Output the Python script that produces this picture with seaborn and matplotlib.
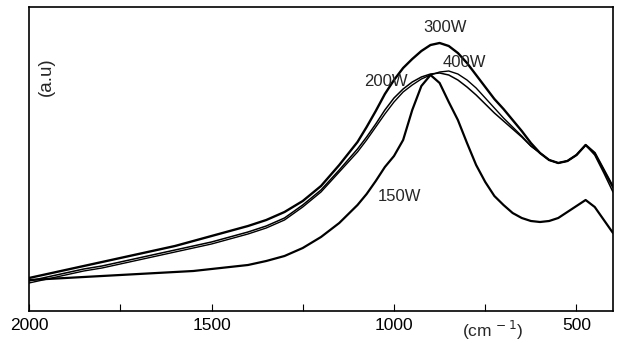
import numpy as np
import pandas as pd
import matplotlib
matplotlib.use("Agg")
import matplotlib.pyplot as plt
import seaborn as sns

# wavenumber grid (cm-1) and intensities (arbitrary units)
wavenumber = [2000, 1950, 1900, 1850, 1800, 1750, 1700, 1650, 1600, 1550,
              1500, 1450, 1400, 1350, 1300, 1250, 1200, 1150, 1100,
              1075, 1050, 1025, 1000, 975, 950, 925, 900, 875, 850,
              825, 800, 775, 750, 725, 700, 675, 650, 625, 600,
              575, 550, 525, 500, 475, 450, 425, 400]

w150 = [31, 32, 33, 34, 35, 36, 37, 38, 39, 40,
        42, 44, 46, 50, 55, 63, 74, 88, 106,
        117, 130, 144, 155, 171, 201, 225, 236, 228, 209,
        191, 168, 146, 129, 115, 106, 98, 93, 90, 89,
        90, 93, 99, 105, 111, 104, 91, 78]
w200 = [30, 34, 38, 42, 45, 49, 53, 57, 61, 65,
        69, 74, 79, 85, 93, 106, 121, 141, 162,
        174, 187, 201, 213, 222, 229, 234, 237, 238, 236,
        231, 224, 216, 207, 198, 190, 182, 174, 165, 158,
        151, 148, 150, 156, 166, 156, 138, 119]
w300 = [33, 37, 41, 45, 49, 53, 57, 61, 65, 70,
        75, 80, 85, 91, 99, 110, 125, 146, 169,
        184, 200, 217, 231, 243, 252, 260, 266, 268, 265,
        258, 248, 236, 224, 212, 202, 191, 180, 168, 158,
        151, 148, 150, 156, 166, 158, 141, 124]
w400 = [28, 32, 36, 40, 43, 47, 51, 55, 59, 63,
        67, 72, 77, 83, 91, 104, 119, 139, 159,
        171, 184, 197, 209, 219, 226, 232, 236, 239, 240,
        237, 231, 223, 213, 203, 193, 184, 175, 165, 158,
        151, 148, 150, 156, 166, 158, 141, 124]

powers = ["150W", "200W", "300W", "400W"]
label_pos = {"150W": (985, 114), "200W": (1021, 229),
             "300W": (859, 283), "400W": (807, 248)}

df = pd.concat([
    pd.DataFrame({"wn": wavenumber, "I": vals, "power": p})
    for p, vals in zip(powers, [w150, w200, w300, w400])
])

sns.set_style("white")
plt.rcParams["font.family"] = ["Liberation Sans", "DejaVu Sans"]

fig = plt.figure(figsize=(6.2, 3.43), dpi=100)
ax = fig.add_axes([0.0468, 0.0933, 0.9419, 0.8863])

widths = {"150W": 1.6, "200W": 1.1, "300W": 1.7, "400W": 1.0}
for p in powers:
    sns.lineplot(data=df[df["power"] == p], x="wn", y="I", color="black",
                 linewidth=widths[p], ax=ax, legend=False,
                 solid_joinstyle="round", solid_capstyle="round")
    tx, ty = label_pos[p]
    ax.text(tx, ty, p, fontsize=12, ha="center", va="center")

ax.set_xlim(2000, 400)
ax.set_ylim(0, 304)
ax.set_xticks([2000, 1500, 1000, 500])
ax.set_xticks([1750, 1250, 750], minor=True)
ax.set_yticks([])
ax.tick_params(axis="x", which="both", direction="in", length=5, width=0.8,
               labelsize=12.5, pad=5, bottom=True, colors="black")
ax.set_xlabel("")
ax.set_ylabel("")
for s in ax.spines.values():
    s.set_color("black")
    s.set_linewidth(1.2)

ax.text(0.029, 0.77, "(a.u)", transform=ax.transAxes, rotation=90,
        fontsize=13.5, ha="center", va="center")
ax.text(730, -0.065, "(cm$^{\\,-1}$)", transform=ax.get_xaxis_transform(),
        fontsize=12.5, ha="center", va="center")

fig.savefig("out.png", dpi=100)
